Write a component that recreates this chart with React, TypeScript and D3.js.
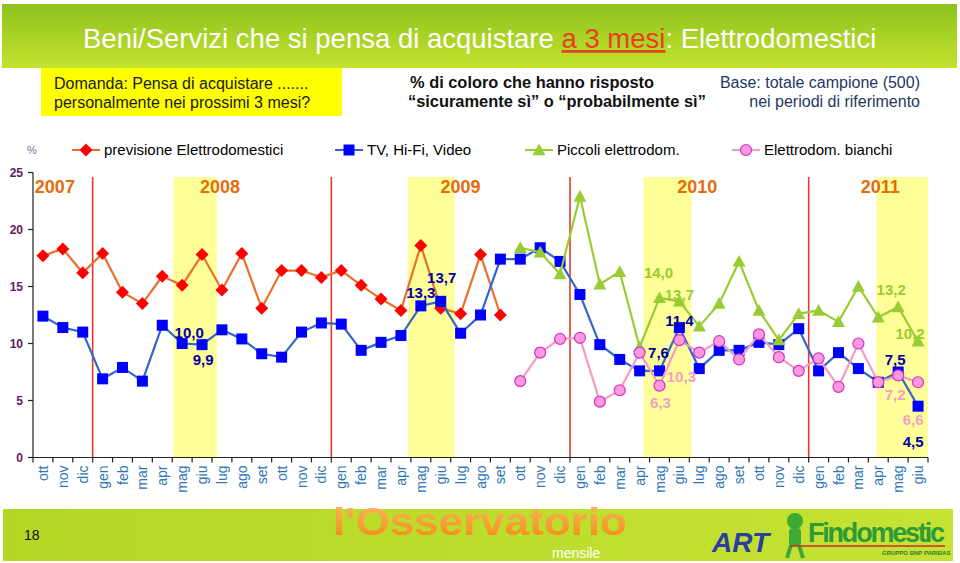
import React from "react";
import * as d3 from "d3";

const months = [
  "ott","nov","dic",
  "gen","feb","mar","apr","mag","giu","lug","ago","set","ott","nov","dic",
  "gen","feb","mar","apr","mag","giu","lug","ago","set","ott","nov","dic",
  "gen","feb","mar","apr","mag","giu","lug","ago","set","ott","nov","dic",
  "gen","feb","mar","apr","mag","giu",
];

const yearLabels = ["2007", "2008", "2009", "2010", "2011"];
const yearLabelIdx = [0.6, 8.9, 21.0, 32.9, 42.1];
const yearDividers = [3, 15, 27, 39];
const highlightStart = [7.05, 18.85, 30.7, 42.4];
const highlightEnd = [9.25, 21.2, 33.1, 45.0];

const previsione: (number | null)[] = [
  17.7, 18.3, 16.2, 17.9, 14.5, 13.5, 15.9, 15.1, 17.8, 14.7, 17.9, 13.1, 16.4, 16.4, 15.8,
  16.4, 15.1, 13.9, 12.9, 18.6, 13.1, 12.6, 17.8, 12.5,
];
const tvHifi: (number | null)[] = [
  12.4, 11.4, 11.0, 6.9, 7.9, 6.7, 11.6, 10.0, 9.9, 11.2, 10.4, 9.1, 8.8, 11.0, 11.8,
  11.7, 9.4, 10.1, 10.7, 13.3, 13.7, 10.9, 12.5, 17.4, 17.4, 18.4, 17.2,
  14.3, 9.9, 8.6, 7.6, 7.6, 11.4, 7.8, 9.4, 9.4, 10.1, 9.9, 11.3,
  7.6, 9.2, 7.8, 6.6, 7.5, 4.5,
];
const piccoli: (number | null)[] = [
  ...Array(24).fill(null),
  18.4, 18.0, 16.1, 22.9, 15.2, 16.3, 9.7, 14.0, 13.7, 11.5, 13.5, 17.2, 12.9, 10.3, 12.6,
  12.9, 11.9, 15.0, 12.3, 13.2, 10.2,
];
const bianchi: (number | null)[] = [
  ...Array(24).fill(null),
  6.7, 9.2, 10.4, 10.5, 4.9, 5.9, 9.2, 6.3, 10.3, 9.2, 10.2, 8.6, 10.8, 8.8, 7.6,
  8.7, 6.2, 10.0, 6.6, 7.2, 6.6,
];

const seriesNames = ["previsione Elettrodomestici", "TV, Hi-Fi, Video", "Piccoli elettrodom.", "Elettrodom. bianchi"];
const yTicks = [0, 5, 10, 15, 20, 25];

// annotations: series index, category index, text
const annSeries = [1, 1, 1, 1, 1, 1, 1, 1, 2, 2, 2, 2, 3, 3, 3, 3];
const annIdx = [7, 8, 19, 20, 32, 31, 43, 44, 31, 32, 43, 44, 32, 31, 43, 44];
const annText = ["10,0", "9,9", "13,3", "13,7", "11,4", "7,6", "7,5", "4,5", "14,0", "13,7", "13,2", "10,2", "10,3", "6,3", "7,2", "6,6"];
const annDx = [7, 1, 0, 1, 0, -1, -3, -5, -1, 0, -7, -8, 2, 1, -3, -5];
const annDy = [-6, 20, -8, -18, -2, -13, -7, 41, -20, -1, -12, -2, 42, 22, 25, 43];

const W = 960;
const H = 563;
const FONT = "Arial, 'Liberation Sans', Helvetica, sans-serif";

const lineColors = ["#E8702A", "#3366CC", "#99CC33", "#F49AC4"];
const markerFill = ["#FF0000", "#0000FF", "#99CC33", "#FF99DD"];
const labelColors = ["#FF0000", "#0000A0", "#99CC33", "#F4A0C4"];

function Marker({ kind, x, y }: { kind: number; x: number; y: number }) {
  if (kind === 0) {
    const s = 6.5;
    return <path d={`M${x},${y - s}L${x + s},${y}L${x},${y + s}L${x - s},${y}Z`} fill={markerFill[0]} />;
  }
  if (kind === 1) {
    const s = 5.5;
    return <rect x={x - s} y={y - s} width={2 * s} height={2 * s} fill={markerFill[1]} />;
  }
  if (kind === 2) {
    const s = 6.5;
    return <path d={`M${x},${y - s}L${x + s},${y + s * 0.8}L${x - s},${y + s * 0.8}Z`} fill={markerFill[2]} />;
  }
  return <circle cx={x} cy={y} r={5.5} fill={markerFill[3]} stroke="#CC33CC" strokeWidth={1.2} />;
}

export default function App() {
  const x = d3.scaleBand<number>().domain(months.map((_, i) => i)).range([33, 928]).paddingInner(0).paddingOuter(0);
  const step = x.step();
  const cx = (i: number) => (x(i) as number) + step / 2;
  const xb = (f: number) => 33 + f * step;
  const y = d3.scaleLinear().domain([0, 25]).range([457.5, 172.5]);

  const allSeries = [previsione, tvHifi, piccoli, bianchi];
  const lineGen = d3
    .line<number | null>()
    .defined((d) => d !== null)
    .x((_, i) => cx(i))
    .y((d) => y(d as number));

  const legendX = [72, 335, 525, 732];

  return (
    <svg width={W} height={H} style={{ position: "absolute", left: 0, top: 0, background: "#fff" }} fontFamily={FONT}>
      <defs>
        <linearGradient id="topBanner" x1="0" y1="0" x2="0" y2="1">
          <stop offset="0" stopColor="#8EC21E" />
          <stop offset="1" stopColor="#C3E22E" />
        </linearGradient>
        <linearGradient id="botBanner" x1="0" y1="0" x2="1" y2="0">
          <stop offset="0" stopColor="#B3D823" />
          <stop offset="1" stopColor="#C6E234" />
        </linearGradient>
        <linearGradient id="osserv" x1="0" y1="0" x2="0" y2="1">
          <stop offset="0" stopColor="#FDB863" />
          <stop offset="1" stopColor="#F08A10" />
        </linearGradient>
      </defs>
      <rect x={0} y={0} width={W} height={H} fill="#fff" />
      {/* top banner */}
      <rect x={2} y={4} width={955} height={64} fill="url(#topBanner)" />
      <text x={83} y={48} fontSize={27.5} fill="#fff">
        Beni/Servizi che si pensa di acquistare{" "}
        <tspan fill="#E8401C" textDecoration="underline">a 3 mesi</tspan>
        <tspan fill="#fff">: Elettrodomestici</tspan>
      </text>
      {/* yellow box */}
      <rect x={41} y={68} width={301} height={48} fill="#FFFF00" />
      <text x={54} y={89} fontSize={16} fill="#1a1a1a">Domanda: Pensa di acquistare .......</text>
      <text x={54} y={108} fontSize={16} fill="#1a1a1a">personalmente nei prossimi 3 mesi?</text>
      <text x={410} y={88} fontSize={16.4} fontWeight="bold" fill="#111">% di coloro che hanno risposto</text>
      <text x={408} y={107} fontSize={16.4} fontWeight="bold" fill="#111">“sicuramente sì” o “probabilmente sì”</text>
      <text x={920} y={88} fontSize={16} fill="#1F3864" textAnchor="end">Base: totale campione (500)</text>
      <text x={920} y={107} fontSize={16} fill="#1F3864" textAnchor="end">nei periodi di riferimento</text>

      {/* legend */}
      <text x={27} y={154} fontSize={11} fill="#8A6A9A">%</text>
      {seriesNames.map((name, k) => (
        <g key={name}>
          <line x1={legendX[k]} x2={legendX[k] + 28} y1={150} y2={150} stroke={lineColors[k]} strokeWidth={2} />
          <Marker kind={k} x={legendX[k] + 14} y={150} />
          <text x={legendX[k] + 32} y={155} fontSize={15} fill="#000">{name}</text>
        </g>
      ))}

      {/* highlight bands */}
      {highlightStart.map((s, i) => (
        <rect key={"hl" + i} x={xb(s)} y={177} width={xb(highlightEnd[i]) - xb(s)} height={y(0) - 177} fill="#FFFF99" />
      ))}
      {/* year dividers */}
      {yearDividers.map((d) => (
        <line key={"yd" + d} x1={xb(d)} x2={xb(d)} y1={177} y2={y(0)} stroke="#E03A2E" strokeWidth={1.6} />
      ))}
      {yearLabels.map((t, i) => (
        <text key={t} x={xb(yearLabelIdx[i]) + step / 2} y={193} fontSize={18} fontWeight="bold" fill="#E46C0A" textAnchor="middle">
          {t}
        </text>
      ))}

      {/* y axis */}
      <line x1={33} x2={33} y1={y(25)} y2={y(0)} stroke="#222" strokeWidth={1.2} />
      {yTicks.map((t) => (
        <g key={"yt" + t}>
          <line x1={28} x2={33} y1={y(t)} y2={y(t)} stroke="#222" strokeWidth={1.2} />
          <text x={23} y={y(t) + 4} fontSize={12} fontWeight="bold" fill="#5E1E5E" textAnchor="end">{t}</text>
        </g>
      ))}
      {/* x axis */}
      <line x1={33} x2={928} y1={y(0)} y2={y(0)} stroke="#222" strokeWidth={1.2} />
      {months.map((_, i) => (
        <line key={"xt" + i} x1={x(i) as number} x2={x(i) as number} y1={y(0)} y2={y(0) + 5} stroke="#222" strokeWidth={1.2} />
      ))}
      <line x1={928} x2={928} y1={y(0)} y2={y(0) + 5} stroke="#222" strokeWidth={1.2} />
      {months.map((m, i) => (
        <text
          key={"xl" + i}
          transform={`translate(${cx(i) + 5},${y(0) + 8}) rotate(-90)`}
          fontSize={14}
          fill="#2E75B6"
          textAnchor="end"
        >
          {m}
        </text>
      ))}

      {/* series */}
      {allSeries.map((s, k) => (
        <g key={"s" + k}>
          <path d={lineGen(s) || ""} fill="none" stroke={lineColors[k]} strokeWidth={2.2} />
          {s.map((v, i) => (v === null ? null : <Marker key={i} kind={k} x={cx(i)} y={y(v)} />))}
        </g>
      ))}

      {/* annotations */}
      {annText.map((t, j) => {
        const s = allSeries[annSeries[j]];
        const v = s[annIdx[j]] as number;
        return (
          <text
            key={"an" + j}
            x={cx(annIdx[j]) + annDx[j]}
            y={y(v) + annDy[j]}
            fontSize={15}
            fontWeight="bold"
            fill={labelColors[annSeries[j]]}
            textAnchor="middle"
          >
            {t}
          </text>
        );
      })}

      {/* bottom banner */}
      <rect x={3} y={509} width={950} height={52} fill="url(#botBanner)" />
      <text x={24} y={540} fontSize={14} fill="#111">18</text>
      <text x={333} y={535} fontSize={38} fontWeight="bold" fill="url(#osserv)" textLength={294} lengthAdjust="spacingAndGlyphs">l'Osservatorio</text>
      <text x={552} y={558} fontSize={14} fill="#fff">mensile</text>
      <text x={712} y={552} fontSize={28} fontWeight="bold" fontStyle="italic" fill="#2A3F9E">ART</text>
      <g>
        <circle cx={795} cy={521} r={8} fill="#3DAA35" />
        <rect x={789} y={528} width={12} height={18} rx={4} fill="#3DAA35" />
        <line x1={791} y1={545} x2={787} y2={558} stroke="#3DAA35" strokeWidth={4} />
        <line x1={799} y1={545} x2={803} y2={558} stroke="#3DAA35" strokeWidth={4} />
        <line x1={790} y1={546} x2={945} y2={546} stroke="#C8302A" strokeWidth={1.5} />
      </g>
      <text x={808} y={542} fontSize={27} fontWeight="bold" fill="#2E9A38" textLength={137}>Findomestic</text>
      <text x={882} y={555} fontSize={6} fontWeight="bold" fill="#2E7A30">GRUPPO BNP PARIBAS</text>
    </svg>
  );
}
